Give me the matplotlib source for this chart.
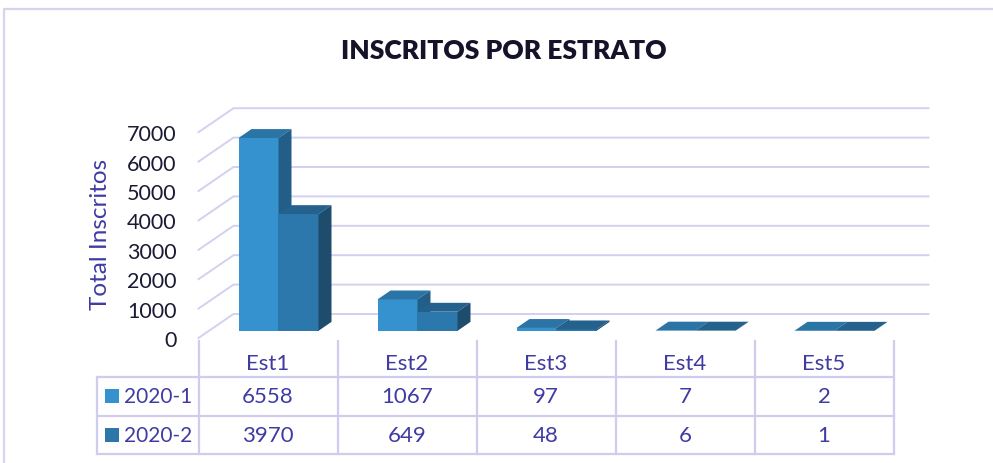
import matplotlib.pyplot as plt
import matplotlib.transforms as mtransforms
from matplotlib.patches import Polygon, Rectangle

categories = ["Est1", "Est2", "Est3", "Est4", "Est5"]
series_names = ["2020-1", "2020-2"]
values_2020_1 = [6558, 1067, 97, 7, 2]
values_2020_2 = [3970, 649, 48, 6, 1]
y_ticks = [0, 1000, 2000, 3000, 4000, 5000, 6000, 7000]

# colours: front, top, side
face_colors = [("#3592CF", "#2B74A6", "#225E88"),
               ("#2C77AB", "#24628D", "#1D4C6D")]
legend_colors = ["#3592CF", "#2C76AA"]
grid_color = "#D3D0F0"
indigo = "#3F3BA3"
plt.rcParams['font.family'] = ['Lato', 'DejaVu Sans']

W, H = 993, 464
fig = plt.figure(figsize=(W / 100, H / 100), dpi=100)

# overlay in pixel units for frame / table layout
px = fig.add_axes([0, 0, 1, 1])
px.set_xlim(0, W)
px.set_ylim(H, 0)
px.axis('off')

# chart axes, front plane: x = category index, y = value
left_px, right_px = 198.5, 893.5
zero_px = 339
uy = 0.0294  # pixels per unit value
ux = (right_px - left_px) / len(categories)
ax = fig.add_axes([left_px / W, (H - zero_px) / H,
                   (right_px - left_px) / W, 8000 * uy / H])
ax.set_xlim(-0.5, len(categories) - 0.5)
ax.set_ylim(0, 8000)
ax.axis('off')


def depth(t):
    # oblique offset going back into the chart, in data units
    return 35 * t / ux, 24 * t / uy


# back wall grid lines
dx, dy = depth(1)
for v in y_ticks:
    ax.plot([-0.5, -0.5 + dx, len(categories) - 0.5 + dx], [v, v + dy, v + dy],
            color=grid_color, lw=1.4, clip_on=False, zorder=1)
    ax.text(-0.5 - 22 / ux, v - 2 / uy, str(v), ha='right', va='center',
            fontsize=15.5, color="#1B1A33", clip_on=False)

ax.text(-0.5 - 98 / ux, 3550, "Total Inscritos", rotation=90, ha='center',
        va='center', fontsize=17.5, color=indigo)

# 3d-looking bars
bar_w = 40 / ux
t0, t1 = 0.3, 0.3 + 13 / 35
s0x, s0y = depth(t0)
s1x, s1y = depth(t1)
for i in range(len(categories)):
    for k, vals in enumerate([values_2020_1, values_2020_2]):
        v = vals[i]
        x0 = i - bar_w if k == 0 else i
        x1 = x0 + bar_w
        front, top, side = face_colors[k]
        ax.add_patch(Rectangle((x0 + s0x, s0y), bar_w, v, facecolor=front,
                               edgecolor='none', clip_on=False, zorder=3))
        ax.add_patch(Polygon([(x0 + s0x, v + s0y), (x1 + s0x, v + s0y),
                              (x1 + s1x, v + s1y), (x0 + s1x, v + s1y)],
                             facecolor=top, edgecolor='none', clip_on=False, zorder=3))
        ax.add_patch(Polygon([(x1 + s0x, s0y), (x1 + s0x, v + s0y),
                              (x1 + s1x, v + s1y), (x1 + s1x, s1y)],
                             facecolor=side, edgecolor='none', clip_on=False, zorder=3))

# data table
tb = mtransforms.blended_transform_factory(ax.transData, px.transData)
line_kw = dict(color="#D0CCEE", lw=1.6, clip_on=False)
for j in range(len(categories) + 1):
    px.plot([j - 0.5, j - 0.5], [342, 455], transform=tb, **line_kw)
px.plot([97, 97], [378, 455], **line_kw)
for y in [378, 417, 455]:
    px.plot([97, right_px], [y, y], **line_kw)

for i, c in enumerate(categories):
    px.text(i, 364, c, transform=tb, ha='center', va='center', fontsize=16, color=indigo)
    px.text(i, 397, str(values_2020_1[i]), transform=tb, ha='center', va='center',
            fontsize=16, color=indigo)
    px.text(i, 436, str(values_2020_2[i]), transform=tb, ha='center', va='center',
            fontsize=16, color=indigo)

for k, (name, y) in enumerate(zip(series_names, [397, 436])):
    px.add_patch(Rectangle((105, y - 7), 14, 14, facecolor=legend_colors[k], edgecolor='none'))
    px.text(124, y, name, ha='left', va='center', fontsize=15, color=indigo)

# chart frame and title
px.plot([4, 4, W], [H, 10, 10], color="#D6D4EF", lw=1.6)
px.text(504, 51, "INSCRITOS POR ESTRATO", ha='center', va='center',
        fontsize=19, fontweight='heavy', color="#14132A")

fig.savefig("out.png", dpi=100)
